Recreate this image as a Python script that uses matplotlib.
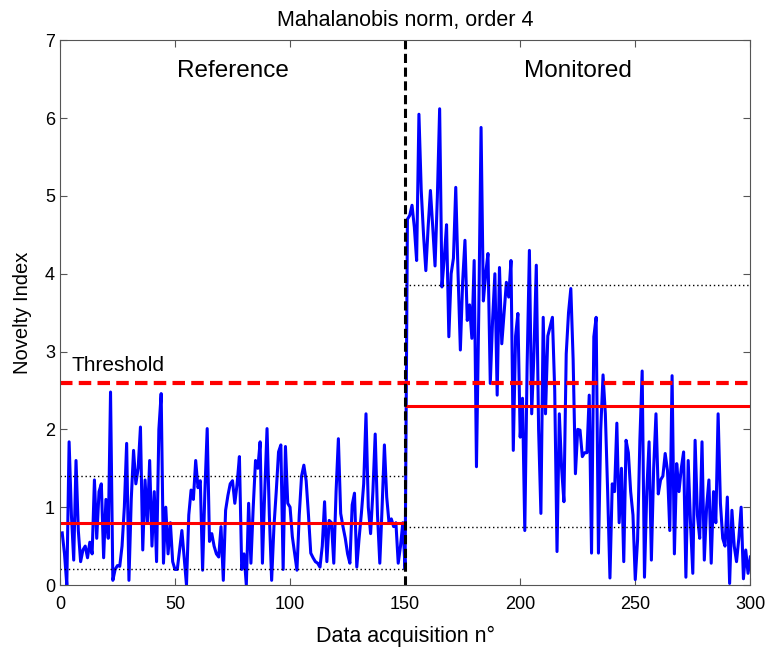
import numpy as np
import matplotlib
matplotlib.use('Agg')
import matplotlib.pyplot as plt

plt.rcParams['font.family'] = ['Liberation Sans', 'DejaVu Sans']

# novelty index, acquisitions 1-150 (reference set)
reference = [
    0.67, 0.40, 0.00, 1.84, 0.90, 0.32, 1.60, 0.70, 0.30, 0.45,
    0.50, 0.35, 0.55, 0.40, 1.35, 0.60, 1.20, 1.30, 0.35, 1.10,
    0.60, 2.48, 0.06, 0.20, 0.25, 0.24, 0.50, 1.00, 1.82, 0.06,
    1.10, 1.73, 1.30, 1.50, 2.03, 0.45, 1.35, 0.80, 1.60, 0.50,
    1.20, 0.30, 2.00, 2.46, 0.28, 1.00, 0.40, 0.80, 0.30, 0.20,
    0.20, 0.45, 0.70, 0.35, 0.00, 0.90, 1.22, 1.10, 1.60, 1.25,
    1.34, 0.19, 1.20, 2.01, 0.56, 0.66, 0.50, 0.40, 0.36, 0.75,
    0.06, 0.96, 1.15, 1.30, 1.34, 1.05, 1.30, 1.65, 0.20, 0.40,
    0.00, 1.05, 0.28, 1.00, 1.60, 1.50, 1.84, 0.28, 1.20, 2.01,
    0.90, 0.06, 0.75, 1.20, 1.71, 1.80, 0.20, 1.78, 1.05, 1.00,
    0.62, 0.40, 0.19, 0.90, 1.40, 1.54, 1.34, 0.90, 0.41, 0.35,
    0.30, 0.28, 0.23, 0.50, 1.07, 0.30, 0.83, 0.80, 0.28, 1.20,
    1.88, 0.92, 0.75, 0.60, 0.40, 0.28, 1.03, 1.18, 0.23, 0.60,
    0.92, 1.30, 2.20, 1.00, 0.66, 1.20, 1.94, 0.90, 0.28, 1.00,
    1.80, 1.13, 0.80, 0.85, 0.75, 0.80, 0.28, 0.50, 0.80, 0.20,
]

# novelty index, acquisitions 151-300 (monitored set)
monitored = [
    4.70, 4.75, 4.88, 4.60, 4.17, 6.05, 5.07, 4.50, 4.04, 4.60,
    5.07, 4.60, 4.10, 4.98, 6.12, 3.83, 4.20, 4.63, 3.19, 4.00,
    4.20, 5.11, 4.00, 3.02, 3.90, 4.43, 3.40, 3.60, 3.17, 4.17,
    1.52, 3.50, 5.88, 3.65, 4.00, 4.26, 2.59, 3.40, 4.00, 2.44,
    4.08, 3.10, 3.50, 3.89, 3.70, 4.17, 1.73, 3.20, 3.49, 1.90,
    2.40, 0.70, 2.80, 4.30, 2.20, 3.00, 4.11, 2.00, 0.92, 3.44,
    2.20, 3.20, 3.32, 3.44, 2.50, 0.43, 2.20, 1.50, 1.07, 2.97,
    3.50, 3.81, 2.90, 1.43, 2.00, 1.99, 1.65, 1.70, 1.70, 2.44,
    0.41, 3.19, 3.44, 0.41, 2.00, 2.70, 2.20, 1.20, 0.09, 1.30,
    1.20, 2.08, 0.80, 1.50, 0.30, 1.86, 1.70, 1.20, 0.90, 0.07,
    0.58, 1.86, 2.75, 0.10, 1.20, 1.84, 0.32, 1.50, 2.20, 1.17,
    1.35, 1.40, 1.69, 1.47, 0.70, 2.69, 0.40, 1.56, 1.20, 1.50,
    1.71, 0.10, 1.60, 0.80, 0.15, 1.86, 0.90, 0.60, 1.84, 0.32,
    1.00, 1.35, 0.28, 1.20, 0.80, 2.20, 1.05, 0.60, 0.50, 1.13,
    0.02, 0.96, 0.50, 0.30, 0.60, 1.00, 0.08, 0.45, 0.15, 0.36,
]

# statistics of each set: mean and mean +/- one std
ref_mean, ref_lo, ref_hi = 0.8, 0.2, 1.4
mon_mean, mon_lo, mon_hi = 2.3, 0.75, 3.85
threshold = 2.6
split = 150

values = np.array(reference + monitored)
x = np.arange(1, len(values) + 1)

fig = plt.figure(figsize=(7.68, 6.5), dpi=100)
ax = fig.add_axes([0.078, 0.1, 0.899, 0.838])

ax.plot(x, values, color='blue', lw=2.2)

ax.hlines(ref_mean, 0, split, color='red', lw=2.2)
ax.hlines(mon_mean, split, 300, color='red', lw=2.2)
ax.hlines([ref_lo, ref_hi], 0, split, color='black', lw=1, linestyles=(0, (1, 2)))
ax.hlines([mon_lo, mon_hi], split, 300, color='black', lw=1, linestyles=(0, (1, 2)))
ax.hlines(threshold, 0, 300, color='red', lw=3, linestyles=(0, (3, 1.5)))
ax.axvline(split, color='black', lw=2.2, linestyle=(0, (3, 1.5)))

ax.text(5, threshold + 0.1, 'Threshold', fontsize=15, va='bottom')
ax.text(75, 6.6, 'Reference', fontsize=17.5, ha='center', va='center')
ax.text(225, 6.6, 'Monitored', fontsize=17.5, ha='center', va='center')

ax.set_xlim(0, 300)
ax.set_ylim(0, 7)
ax.set_xticks(range(0, 301, 50))
ax.set_yticks(range(0, 8))
ax.tick_params(direction='in', top=True, right=True, labelsize=13, length=5, color='#555555')
ax.tick_params(axis='x', pad=8)
for s in ax.spines.values():
    s.set_color('#555555')

ax.set_title('Mahalanobis norm, order 4', fontsize=15.5, pad=10)
ax.set_xlabel('Data acquisition n°', fontsize=15.5, labelpad=9)
ax.set_ylabel('Novelty Index', fontsize=14.5, labelpad=9)

fig.savefig('out.png', dpi=100)
